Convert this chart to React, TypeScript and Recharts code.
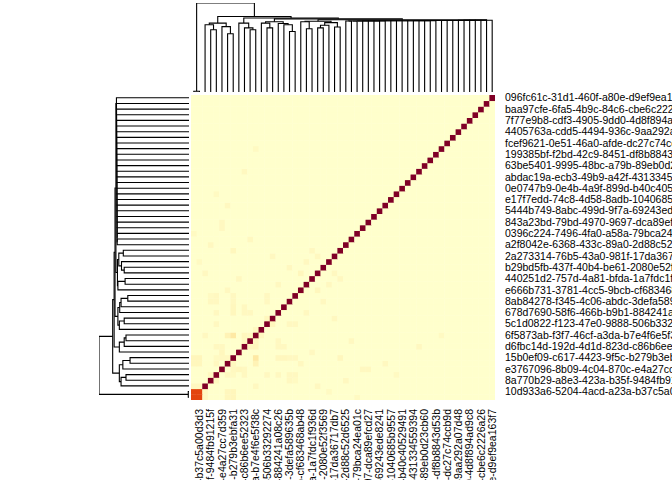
import { ScatterChart, Scatter, XAxis, YAxis } from "recharts";

// 54 items, same order on rows (bottom to top) and columns (left to right)
const itemCount = 54;

// labels drawn on every other item (items 1, 3, ..., 53)
const rowLabels = [
  "10d933a6-5204-4acd-a23a-b37c5a00d3d3",
  "8a770b29-a8e3-423a-b35f-9484fb91215f",
  "e3767096-8b09-4c04-870c-e4a27cc7d359",
  "15b0ef09-c617-4423-9f5c-b279b3ebfa31",
  "d6fbc14d-192d-4d1d-823d-c86b6ee52323",
  "6f5873ab-f3f7-46cf-a3da-b7e4f6e5f38c",
  "5c1d0822-f123-47e0-9888-506b33292274",
  "678d7690-58f6-466b-b9b1-884241a08c26",
  "8ab84278-f345-4c06-abdc-3defa589635b",
  "e666b731-3781-4cc5-9bcb-cf683468ab48",
  "440251d2-757d-4a81-bfda-1a7fdc1f936d",
  "b29bd5fb-437f-40b4-be61-2080e52f3569",
  "2a273314-76b5-43a0-981f-17da36717db7",
  "a2f8042e-6368-433c-89a0-2d88c52d6525",
  "0396c224-7496-4fa0-a58a-79bca24ea01c",
  "843a23bd-79bd-4970-9697-dca89efcd27",
  "5444b749-8abc-499d-9f7a-69243ede8241",
  "e17f7edd-74c8-4d58-8adb-1040685b9557",
  "0e0747b9-0e4b-4a9f-899d-b40c40529491",
  "abdac19a-ecb3-49b9-a42f-431334559394",
  "63be5401-9995-48bc-a79b-89eb0d23cb60",
  "199385bf-f2bd-42c9-8451-df8b8843d53b",
  "fcef9621-0e51-46a0-afde-dc27c74ccb9d",
  "4405763a-cdd5-4494-936c-9aa292a07d48",
  "7f77e9b8-cdf3-4905-9dd0-4d8f894ad9c8",
  "baa97cfe-6fa5-4b9c-84c6-cbe6c2226a26",
  "096fc61c-31d1-460f-a80e-d9ef9ea163f7",
];
const labelItems = rowLabels.map((_, k) => 2 * k + 1);

const diagonal = [
  0.72, 0.72, 1, 1, 1, 1, 1, 1, 1, 1, 1, 1, 1, 1, 1, 1, 1, 1,
  1, 1, 1, 1, 1, 1, 1, 1, 1, 1, 1, 1, 1, 1, 1, 1, 1, 1,
  1, 1, 1, 1, 1, 1, 1, 1, 1, 1, 1, 1, 1, 1, 1, 1, 1, 1,
];

// [item a, item b, value] – the matrix is symmetric
const offDiagonal: [number, number, number][] = [
  [0, 1, 0.72],
  [0, 2, 0.05], [1, 2, 0.05],
  [0, 6, 0.06], [1, 6, 0.06], [0, 7, 0.07], [1, 7, 0.07],
  [3, 4, 0.05], [4, 6, 0.05], [4, 7, 0.04], [6, 7, 0.05],
  [5, 7, 0.05], [5, 8, 0.06], [5, 9, 0.05],
  [2, 11, 0.05], [6, 11, 0.09], [7, 11, 0.16], [9, 11, 0.06], [10, 11, 0.05],
  [11, 12, 0.05], [4, 9, 0.05], [9, 10, 0.05],
  [9, 15, 0.05], [9, 16, 0.05],
  [4, 13, 0.05], [13, 14, 0.06], [13, 17, 0.05], [13, 18, 0.05],
  [4, 15, 0.05], [10, 15, 0.05],
  [7, 15, 0.06], [7, 16, 0.06], [7, 17, 0.05], [7, 18, 0.05],
  [3, 17, 0.05], [4, 17, 0.05], [3, 18, 0.04], [4, 18, 0.05],
  [2, 22, 0.05], [1, 24, 0.04], [7, 26, 0.06], [3, 27, 0.05], [0, 29, 0.04],
  [5, 30, 0.05], [5, 31, 0.05], [6, 34, 0.05], [4, 36, 0.04], [9, 40, 0.05],
  [11, 44, 0.04], [14, 25, 0.05], [17, 23, 0.05], [20, 24, 0.05],
  [19, 22, 0.06], [21, 26, 0.05], [15, 20, 0.05], [22, 25, 0.05],
  [8, 21, 0.05], [10, 28, 0.05], [6, 19, 0.05],
];

// hierarchical clustering: [node, left child, right child, height]
type Child = number | string;
const merges: [string, Child, Child, number][] = [
  ["p01", 0, 1, 0.008],
  ["a1", 3, 4, 0.7],
  ["a2", 2, "a1", 0.755],
  ["a3", 6, 7, 0.655],
  ["a4", 5, "a3", 0.735],
  ["A", "a2", "a4", 0.774],
  ["b1", 10, 11, 0.7],
  ["b2", 9, "b1", 0.72],
  ["B", 8, "b2", 0.774],
  ["c1", 13, 14, 0.72],
  ["c2", 12, "c1", 0.774],
  ["c3", 17, 18, 0.68],
  ["c4", 16, "c3", 0.755],
  ["c5", 15, "c4", 0.77],
  ["C", "c2", "c5", 0.79],
  ["d1", 20, 21, 0.71],
  ["d2", 19, "d1", 0.79],
  ["d3", 22, 23, 0.72],
  ["d4", "d3", 24, 0.75],
  ["d5", 25, 26, 0.73],
  ["d6", "d4", "d5", 0.78],
  ["D", "d2", "d6", 0.795],
  ["e1", 27, 28, 0.798],
  ["e2", "e1", 29, 0.7982],
  ["e3", "e2", 30, 0.7985],
  ["e4", "e3", 31, 0.7987],
  ["e5", "e4", 32, 0.799],
  ["e6", "e5", 33, 0.7992],
  ["e7", "e6", 34, 0.7995],
  ["e8", "e7", 35, 0.7998],
  ["e9", "e8", 36, 0.8],
  ["e10", "e9", 37, 0.8003],
  ["e11", "e10", 38, 0.8006],
  ["e12", "e11", 39, 0.801],
  ["e13", "e12", 40, 0.8013],
  ["e14", "e13", 41, 0.8016],
  ["e15", "e14", 42, 0.802],
  ["e16", "e15", 43, 0.8023],
  ["e17", "e16", 44, 0.8027],
  ["e18", "e17", 45, 0.803],
  ["e19", "e18", 46, 0.8034],
  ["e20", "e19", 47, 0.8038],
  ["e21", "e20", 48, 0.8042],
  ["e22", "e21", 49, 0.8046],
  ["e23", "e22", 50, 0.805],
  ["e24", "e23", 51, 0.8054],
  ["e25", "e24", 52, 0.8058],
  ["E", "e25", 53, 0.8062],
  ["DE", "D", "E", 0.812],
  ["CDE", "C", "DE", 0.822],
  ["BCDE", "B", "CDE", 0.832],
  ["rest", "A", "BCDE", 0.848],
  ["root", "p01", "rest", 1],
];

const FONT = "'Liberation Sans', Arial, sans-serif";
const PLOT_W = 304;
const PLOT_H = 305;
const cellW = PLOT_W / itemCount;
const cellH = PLOT_H / itemCount;

const rampStops: [number, number[]][] = [
  [0, [255, 255, 204]],
  [0.2, [254, 228, 154]],
  [0.72, [227, 68, 14]],
  [1, [128, 0, 38]],
];

function heatColor(v: number) {
  for (let i = 1; i < rampStops.length; i++) {
    const [v1, c1] = rampStops[i];
    const [v0, c0] = rampStops[i - 1];
    if (v <= v1) {
      const t = (v - v0) / (v1 - v0);
      const c = c0.map((a, k) => Math.round(a + (c1[k] - a) * t));
      return `rgb(${c[0]},${c[1]},${c[2]})`;
    }
  }
  return "rgb(128,0,38)";
}

function buildCells() {
  const m: number[][] = [];
  for (let i = 0; i < itemCount; i++) m.push(new Array(itemCount).fill(0));
  diagonal.forEach((v, i) => (m[i][i] = v));
  offDiagonal.forEach(([a, b, v]) => {
    m[a][b] = v;
    m[b][a] = v;
  });
  const cells: { x: number; y: number; v: number }[] = [];
  for (let r = 0; r < itemCount; r++)
    for (let c = 0; c < itemCount; c++) cells.push({ x: c, y: r, v: m[r][c] });
  return cells;
}

// node position = midpoint of its two children, as in plot.dendrogram
function treeSegments() {
  const pos = new Map<string, { x: number; h: number }>();
  const get = (n: Child) => (typeof n === "number" ? { x: n, h: 0 } : pos.get(n)!);
  return merges.map(([id, a, b, h]) => {
    const L = get(a);
    const R = get(b);
    pos.set(id, { x: (L.x + R.x) / 2, h });
    return { id, pts: [L, { x: L.x, h }, { x: R.x, h }, R] };
  });
}

const cells = buildCells();
const segments = treeSegments();
const noShape = () => <g />;
const lineStyle = { stroke: "#000", strokeWidth: 1.1 };

const CellShape = (props: any) => (
  <rect
    x={props.cx - cellW / 2}
    y={props.cy - cellH / 2}
    width={cellW + 0.4}
    height={cellH + 0.4}
    fill={heatColor(props.payload.v)}
  />
);

const BottomTick = (props: any) => {
  const { x, y, payload } = props;
  return (
    <text
      x={x}
      y={y}
      transform={`rotate(-90 ${x} ${y})`}
      textAnchor="end"
      dy="0.35em"
      fontSize={10.5}
      fontFamily={FONT}
      fill="#000"
    >
      {rowLabels[(payload.value - 1) / 2]}
    </text>
  );
};

const RightTick = (props: any) => {
  const { x, y, payload } = props;
  return (
    <text x={x} y={y} dy="0.35em" textAnchor="start" fontSize={10.5} fontFamily={FONT} fill="#000">
      {rowLabels[(payload.value - 1) / 2]}
    </text>
  );
};

const domain: [number, number] = [-0.5, itemCount - 0.5];

export default function App() {
  return (
    <div
      style={{
        position: "absolute",
        left: 0,
        top: 0,
        width: 672,
        height: 480,
        background: "#fff",
        overflow: "hidden",
      }}
    >
      <div style={{ position: "absolute", left: 0, top: 0 }}>
        <ScatterChart width={672} height={480} margin={{ top: 95, right: 0, bottom: 0, left: 191 }}>
          <XAxis
            type="number"
            dataKey="x"
            domain={domain}
            allowDataOverflow
            ticks={labelItems}
            interval={0}
            height={80}
            axisLine={false}
            tickLine={false}
            tickSize={0}
            tickMargin={9}
            tick={<BottomTick />}
          />
          <YAxis
            type="number"
            dataKey="y"
            domain={domain}
            allowDataOverflow
            orientation="right"
            ticks={labelItems}
            interval={0}
            width={177}
            axisLine={false}
            tickLine={false}
            tickSize={0}
            tickMargin={10}
            tick={<RightTick />}
          />
          <Scatter data={cells} shape={<CellShape />} isAnimationActive={false} />
        </ScatterChart>
      </div>

      <div style={{ position: "absolute", left: 0, top: 0 }}>
        <ScatterChart width={672} height={100} margin={{ top: 3, right: 177, bottom: 8, left: 191 }}>
          <XAxis type="number" dataKey="x" domain={domain} allowDataOverflow hide />
          <YAxis type="number" dataKey="h" domain={[0, 1]} allowDataOverflow hide />
          {segments.map((s) => (
            <Scatter
              key={s.id}
              data={s.pts}
              line={lineStyle}
              shape={noShape}
              isAnimationActive={false}
            />
          ))}
        </ScatterChart>
      </div>

      <div style={{ position: "absolute", left: 0, top: 0 }}>
        <ScatterChart width={200} height={480} margin={{ top: 95, right: 11, bottom: 80, left: 99 }}>
          <XAxis type="number" dataKey="h" domain={[0, 1]} reversed allowDataOverflow hide />
          <YAxis type="number" dataKey="x" domain={domain} allowDataOverflow hide />
          {segments.map((s) => (
            <Scatter
              key={s.id}
              data={s.pts}
              line={lineStyle}
              shape={noShape}
              isAnimationActive={false}
            />
          ))}
        </ScatterChart>
      </div>
    </div>
  );
}
